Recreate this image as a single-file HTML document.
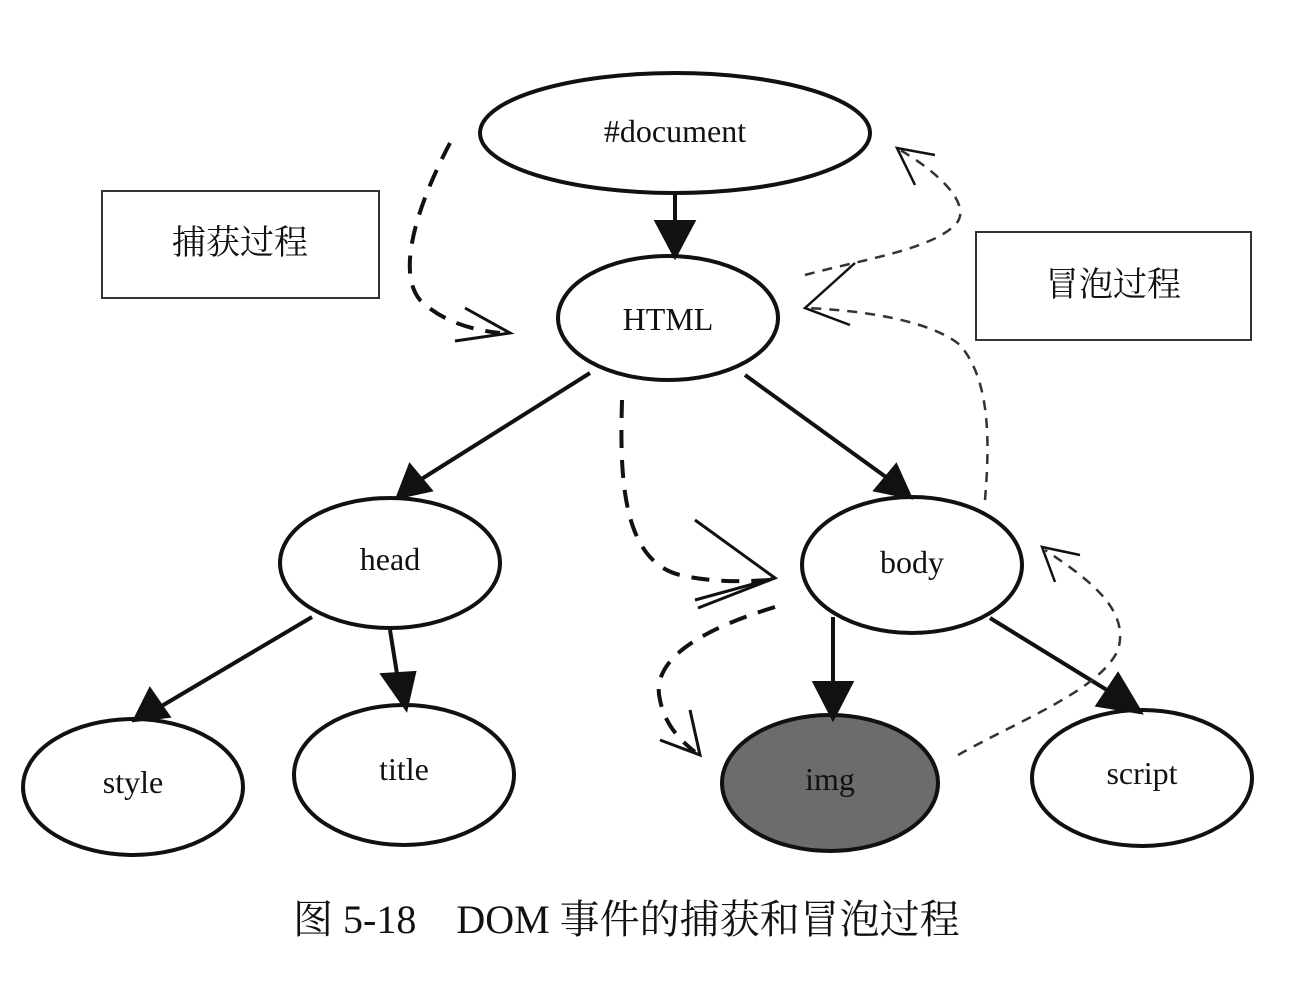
<!DOCTYPE html>
<html><head><meta charset="utf-8"><style>
html,body{margin:0;padding:0;background:#fff;}
svg{display:block;}
text{font-family:"Liberation Serif","Noto Serif CJK SC",serif;fill:#111;}
</style></head><body>
<svg width="1312" height="994" viewBox="0 0 1312 994" xmlns="http://www.w3.org/2000/svg">
<g fill="none" stroke="#111" stroke-width="4">
<ellipse cx="675" cy="133" rx="195" ry="60" fill="#fff"/>
<ellipse cx="668" cy="318" rx="110" ry="62" fill="#fff"/>
<ellipse cx="390" cy="563" rx="110" ry="65" fill="#fff"/>
<ellipse cx="912" cy="565" rx="110" ry="68" fill="#fff"/>
<ellipse cx="133" cy="787" rx="110" ry="68" fill="#fff"/>
<ellipse cx="404" cy="775" rx="110" ry="70" fill="#fff"/>
<ellipse cx="830" cy="783" rx="108" ry="68" fill="#6c6c6c"/>
<ellipse cx="1142" cy="778" rx="110" ry="68" fill="#fff"/>
</g>
<g stroke="#111" stroke-width="4" fill="#111">
<line x1="675" y1="193" x2="675" y2="225"/><polygon points="657,222 693,222 675,256"/>
<line x1="563" y1="326" x2="563" y2="326"/>
<line x1="565" y1="326" x2="565" y2="326"/>
<line x1="565" y1="326" x2="565" y2="326"/>
<line x1="563" y1="326" x2="563" y2="326"/>
<line x1="565" y1="326" x2="565" y2="326"/>
<line x1="565" y1="326" x2="565" y2="326"/>
<line x1="563" y1="326" x2="563" y2="326"/>
<line x1="590" y1="373" x2="420" y2="480"/><polygon points="398,497 410,466 430,490"/>
<line x1="703" y1="326" x2="703" y2="326"/>
<line x1="703" y1="326" x2="703" y2="326"/>
<line x1="745" y1="375" x2="890" y2="480"/><polygon points="910,497 876,490 896,466"/>
<line x1="312" y1="617" x2="160" y2="707"/><polygon points="135,720 150,690 168,716"/>
<line x1="390" y1="630" x2="398" y2="680"/><polygon points="406,708 383,675 414,673"/>
<line x1="833" y1="617" x2="833" y2="685"/><polygon points="815,683 851,683 833,718"/>
<line x1="990" y1="618" x2="1115" y2="695"/><polygon points="1140,712 1098,705 1118,675"/>
</g>
<g fill="none" stroke="#111" stroke-width="4" stroke-dasharray="18,12">
<path d="M450,143 C420,200 395,270 420,300 C440,320 470,330 500,333"/>
<path d="M622,400 C620,470 620,560 680,575 C710,582 740,582 770,580"/>
<path d="M775,607 C700,630 650,660 660,700 C665,725 680,740 695,752"/>
</g>
<g fill="none" stroke="#111" stroke-width="3">
<path d="M465,308 L510,333 L455,341"/>
<path d="M695,520 L775,578 L698,608" transform="translate(0,0)"/>
<path d="M695,600 L775,578"/>
<path d="M660,740 L700,755 L690,710"/>
</g>
<g fill="none" stroke="#333" stroke-width="2.5" stroke-dasharray="10,8">
<path d="M958,755 C1020,720 1100,690 1118,650 C1130,610 1090,580 1045,550"/>
<path d="M985,500 C990,440 990,380 960,345 C930,320 860,310 805,308"/>
<path d="M805,275 C860,260 930,250 955,225 C975,205 935,170 900,150"/>
</g>
<g fill="none" stroke="#111" stroke-width="2.5">
<path d="M1080,555 L1042,547 L1055,582"/>
<path d="M855,263 L805,308 L850,325"/>
<path d="M935,155 L897,148 L915,185"/>
</g>
<rect x="102" y="191" width="277" height="107" fill="none" stroke="#333" stroke-width="2"/>
<rect x="976" y="232" width="275" height="108" fill="none" stroke="#333" stroke-width="2"/>
<g font-size="32" text-anchor="middle">
<text x="675" y="142">#document</text>
<text x="668" y="330">HTML</text>
<text x="390" y="570">head</text>
<text x="912" y="573">body</text>
<text x="133" y="793">style</text>
<text x="404" y="780">title</text>
<text x="830" y="790">img</text>
<text x="1142" y="784">script</text>
<text x="240" y="254" font-size="34">捕获过程</text>
<text x="1113" y="296" font-size="34">冒泡过程</text>
</g>
<text x="293" y="933" font-size="40">图 5-18　DOM 事件的捕获和冒泡过程</text>
</svg>
</body></html>
